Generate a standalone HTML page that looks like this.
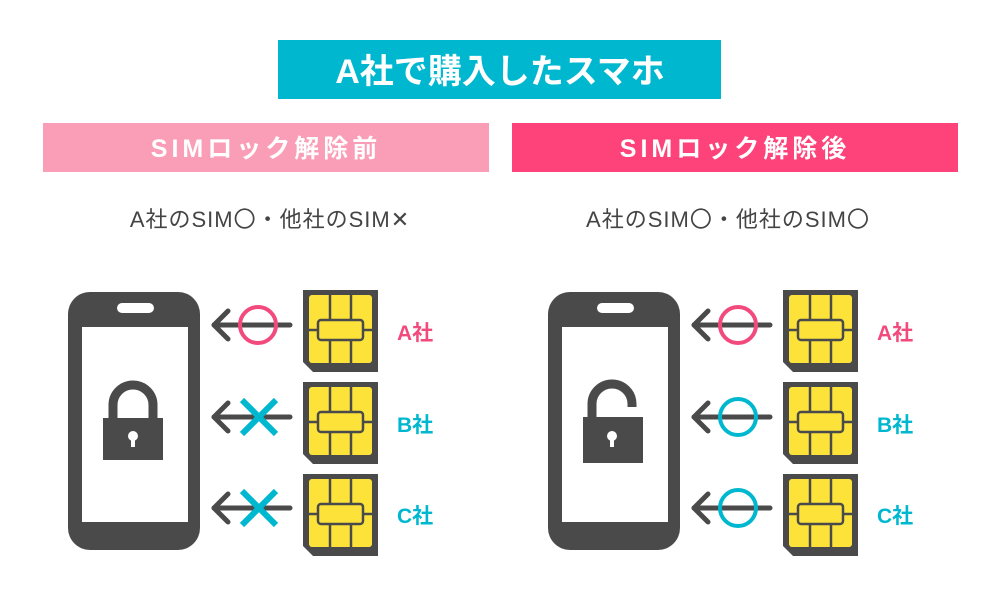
<!DOCTYPE html>
<html><head><meta charset="utf-8"><style>
body{margin:0;background:#fff;}
svg{display:block}
text{font-family:"Liberation Sans","Noto Sans CJK JP",sans-serif;font-weight:bold}
</style></head><body>
<svg width="1000" height="600" viewBox="0 0 1000 600" xmlns="http://www.w3.org/2000/svg">
<defs>
<g id="sim">
 <path d="M0,0 H75 V82 H10 L0,72 Z" fill="#4a4a4a"/>
 <rect x="6" y="5" width="63" height="68" rx="3" fill="#fde23a"/>
 <path d="M27,5 V30 M48,5 V30 M27,50 V73 M48,50 V73 M6,40 H15 M60,40 H69" stroke="#4a4a4a" stroke-width="2.5" fill="none"/>
 <rect x="15" y="30" width="45" height="20" rx="3" fill="#fde23a" stroke="#4a4a4a" stroke-width="2.5"/>
</g>
<g id="arrow">
 <path d="M2,0 H78" stroke="#4a4a4a" stroke-width="5" stroke-linecap="round"/>
 <path d="M16,-14 L2,0 L16,14" stroke="#4a4a4a" stroke-width="5" fill="none" stroke-linecap="round" stroke-linejoin="round"/>
</g>
<g id="phone">
 <rect x="0" y="0" width="132" height="258" rx="22" fill="#4a4a4a"/>
 <rect x="14" y="35" width="106" height="195" fill="#fff"/>
 <rect x="49" y="11" width="37" height="10" rx="5" fill="#fff"/>
</g>
</defs>
<rect x="278" y="40" width="443" height="59" fill="#00b7d0"/>
<text x="500" y="83" font-size="34" fill="#fff" text-anchor="middle">A社で購入したスマホ</text>
<rect x="43" y="123" width="446" height="49" fill="#fa9db6"/>
<text x="266" y="157" font-size="25" fill="#fff" text-anchor="middle" letter-spacing="4">SIMロック解除前</text>
<rect x="512" y="123" width="446" height="49" fill="#fe437a"/>
<text x="735" y="157" font-size="25" fill="#fff" text-anchor="middle" letter-spacing="4">SIMロック解除後</text>
<text x="270" y="227" font-size="22" fill="#444" text-anchor="middle" letter-spacing="1" style="font-weight:normal">A社のSIM〇・他社のSIM✕</text>
<text x="728" y="227" font-size="22" fill="#444" text-anchor="middle" letter-spacing="1" style="font-weight:normal">A社のSIM〇・他社のSIM〇</text>

<!-- left panel -->
<use href="#phone" x="68" y="292"/>
<rect x="103" y="418" width="60" height="42" fill="#4a4a4a"/>
<path d="M113,418 V405 A20,20 0 0 1 153,405 V418" stroke="#4a4a4a" stroke-width="9" fill="none"/>
<circle cx="133" cy="436" r="5" fill="#fff"/><rect x="131" y="437" width="4" height="10" fill="#fff"/>

<use href="#arrow" x="212" y="325"/><use href="#arrow" x="212" y="417"/><use href="#arrow" x="212" y="508"/>
<circle cx="258" cy="325" r="18" fill="none" stroke="#f24a7c" stroke-width="4"/>
<path d="M242,400 L276,434 M276,400 L242,434" stroke="#00b7d0" stroke-width="6"/>
<path d="M242,491 L276,525 M276,491 L242,525" stroke="#00b7d0" stroke-width="6"/>
<use href="#sim" x="303" y="290"/><use href="#sim" x="303" y="382"/><use href="#sim" x="303" y="474"/>
<text x="397" y="340" font-size="21" fill="#f24a7c">A社</text>
<text x="397" y="432" font-size="21" fill="#00b7d0">B社</text>
<text x="397" y="523" font-size="21" fill="#00b7d0">C社</text>

<!-- right panel -->
<use href="#phone" x="548" y="292"/>
<rect x="583" y="417" width="60" height="46" fill="#4a4a4a"/>
<path d="M592,417 V404 A20,20 0 0 1 632,404 V407" stroke="#4a4a4a" stroke-width="9" fill="none"/>
<circle cx="612" cy="436" r="5" fill="#fff"/><rect x="610" y="437" width="4" height="10" fill="#fff"/>

<use href="#arrow" x="692" y="325"/><use href="#arrow" x="692" y="417"/><use href="#arrow" x="692" y="508"/>
<circle cx="738" cy="325" r="18" fill="none" stroke="#f24a7c" stroke-width="4"/>
<circle cx="738" cy="417" r="18" fill="none" stroke="#00b7d0" stroke-width="4"/>
<circle cx="738" cy="508" r="18" fill="none" stroke="#00b7d0" stroke-width="4"/>
<use href="#sim" x="783" y="290"/><use href="#sim" x="783" y="382"/><use href="#sim" x="783" y="474"/>
<text x="877" y="340" font-size="21" fill="#f24a7c">A社</text>
<text x="877" y="432" font-size="21" fill="#00b7d0">B社</text>
<text x="877" y="523" font-size="21" fill="#00b7d0">C社</text>
</svg>
</body></html>
